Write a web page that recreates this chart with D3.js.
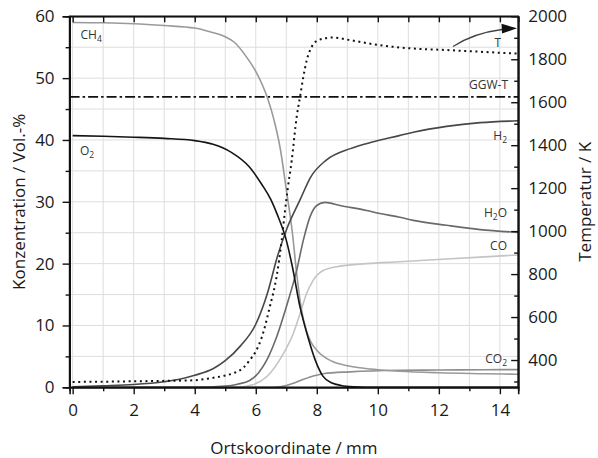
<!DOCTYPE html>
<html><head><meta charset="utf-8">
<script src="https://cdn.jsdelivr.net/npm/d3@7"></script>
<style>
html,body{margin:0;padding:0;background:#fff;}
svg{display:block;}
text{font-family:"Open Sans","DejaVu Sans",sans-serif;}
</style></head>
<body>
<svg id="chart" width="598" height="458"></svg>
<script>
// ---- data ----
const xTicks = [0, 2, 4, 6, 8, 10, 12, 14];
const yLeftTicks = [0, 10, 20, 30, 40, 50, 60];
const yRightTicks = [400, 600, 800, 1000, 1200, 1400, 1600, 1800, 2000];

const ch4X = [0,1,2,3,4,4.5,5,5.3,5.7,6.0,6.2,6.4,6.6,6.8,7.0,7.2,7.35,7.5,7.65,7.8,8.0,8.5,9.0,9.4,10,10.7,12,13.5,14.6];
const ch4Y = [59.0,58.95,58.8,58.5,58.1,57.5,56.7,55.8,53.4,51.1,49.1,46.6,43.2,38.7,32.0,25.0,18.0,12.5,9.3,7.4,6.0,4.2,3.5,3.15,2.85,2.6,2.35,2.2,2.1];

const o2X = [0,1,2,3,4,4.6,5.2,5.8,6.2,6.5,6.7,7.0,7.2,7.45,7.7,7.95,8.2,8.5,8.8,9.2,10,14.6];
const o2Y = [40.7,40.6,40.45,40.25,39.9,39.3,38.0,35.6,32.8,30.3,28.0,23.8,19.5,13.0,8.3,4.4,1.8,0.7,0.3,0.1,0.0,0.0];

const h2X = [0,1,2,3,3.5,4.0,4.6,5.0,5.5,6.0,6.4,6.7,7.0,7.45,7.8,8.3,9.1,9.85,10.7,11.2,12.25,13.35,14.6];
const h2Y = [0.1,0.25,0.45,0.9,1.3,1.95,3.0,4.3,6.7,10.2,15.5,21.0,25.4,30.3,34.0,36.7,38.6,39.7,40.7,41.3,42.2,42.8,43.1];

const h2oX = [0,4,5,5.4,5.8,6.1,6.36,6.68,7.0,7.34,7.56,7.78,8.0,8.27,8.76,9.63,10.07,10.72,11.16,12.25,13.35,14.6];
const h2oY = [0,0,0.2,0.5,1.1,2.4,4.4,8.1,13.0,18.9,23.8,27.6,29.4,29.9,29.4,28.6,28.1,27.5,27.0,26.2,25.5,25.05];

const coX = [0,5.4,5.9,6.36,6.9,7.23,7.45,7.67,7.88,8.21,8.76,9.63,10.72,12.25,13.5,14.6];
const coY = [0,0,0.4,1.7,5.4,8.7,11.9,15.2,17.3,18.9,19.6,20.0,20.3,20.75,21.1,21.4];

const co2X = [0,6.4,6.7,7.0,7.34,7.78,8.21,9.09,10.72,12,13.5,14.6];
const co2Y = [0,0,0.05,0.3,0.86,1.67,2.2,2.5,2.75,2.8,2.84,2.86];

const tX = [0,1,2,3,4,4.5,5.0,5.3,5.6,5.8,6.0,6.2,6.46,6.68,6.85,6.96,7.05,7.18,7.34,7.45,7.56,7.67,7.83,8.05,8.5,9.1,9.85,10.7,12.4,14.6];
const tY = [298,299,301,303,306,315,328,340,365,399,440,507,647,786,957,1097,1200,1330,1531,1624,1718,1795,1857,1889,1901,1889,1870,1855,1842,1826];

const ggwT = 1625;

// ---- scales ----
const svg = d3.select("#chart");
const x = d3.scaleLinear().domain([-0.1, 14.6]).range([69.6, 518.2]);
const y = d3.scaleLinear().domain([0, 60]).range([387.3, 16.3]);
const yT = d3.scaleLinear().domain([273, 2000]).range([387.3, 16.3]);

// ---- grid ----
const grid = svg.append("g");
grid.selectAll("line.vx").data(d3.range(0, 15)).join("line")
  .attr("x1", d => x(d)).attr("x2", d => x(d))
  .attr("y1", y(0)).attr("y2", y(60))
  .attr("stroke", "#dedede").attr("stroke-width", 1);
grid.selectAll("line.hy").data(d3.range(5, 60, 5)).join("line")
  .attr("x1", x(-0.1)).attr("x2", x(14.6))
  .attr("y1", d => y(d)).attr("y2", d => y(d))
  .attr("stroke", "#dedede").attr("stroke-width", 1);

// ---- lines ----
function series(xs, ys) { return xs.map((v, i) => [v, ys[i]]); }
const lineL = d3.line().x(d => x(d[0])).y(d => y(d[1])).curve(d3.curveMonotoneX);
const lineT = d3.line().x(d => x(d[0])).y(d => yT(d[1])).curve(d3.curveMonotoneX);

const plot = svg.append("g");
// GGW-T
plot.append("line")
  .attr("x1", x(-0.1)).attr("x2", x(14.6))
  .attr("y1", yT(ggwT)).attr("y2", yT(ggwT))
  .attr("stroke", "#111").attr("stroke-width", 1.6)
  .attr("stroke-dasharray", "10,3,2.5,3");

const curves = [
  {d: series(coX, coY), c: "#c4c4c4"},
  {d: series(co2X, co2Y), c: "#8e8e8e"},
  {d: series(ch4X, ch4Y), c: "#9a9a9a"},
  {d: series(h2oX, h2oY), c: "#6a6a6a"},
  {d: series(h2X, h2Y), c: "#474747"},
  {d: series(o2X, o2Y), c: "#141414"}
];
curves.forEach(s => {
  plot.append("path").attr("d", lineL(s.d))
    .attr("fill", "none").attr("stroke", s.c).attr("stroke-width", 1.6);
});
plot.append("path").attr("d", lineT(series(tX, tY)))
  .attr("fill", "none").attr("stroke", "#111").attr("stroke-width", 2)
  .attr("stroke-dasharray", "2,3.6");

// ---- axes ----
const fmt = d3.format("d");
svg.append("g").attr("transform", `translate(${x(-0.1)},0)`)
  .call(d3.axisLeft(y).tickValues(yLeftTicks).tickSize(7).tickPadding(8).tickFormat(fmt));
svg.append("g").attr("transform", `translate(${x(-0.1)},0)`)
  .call(d3.axisLeft(y).tickValues(d3.range(5, 60, 10)).tickSize(4).tickFormat(""));
svg.append("g").attr("transform", `translate(0,${y(0)})`)
  .call(d3.axisBottom(x).tickValues(xTicks).tickSize(7).tickPadding(10).tickFormat(fmt));
svg.append("g").attr("transform", `translate(0,${y(0)})`)
  .call(d3.axisBottom(x).tickValues(d3.range(1, 15, 2)).tickSize(4).tickFormat(""));
svg.append("g").attr("transform", `translate(0,${y(60)})`)
  .call(d3.axisTop(x).tickValues(d3.range(0, 15)).tickSize(-6).tickFormat(""));
svg.append("g").attr("transform", `translate(${x(14.6)},0)`)
  .call(d3.axisRight(yT).tickValues(yRightTicks).tickSizeInner(-7).tickSizeOuter(0).tickPadding(10).tickFormat(fmt));
svg.append("g").attr("transform", `translate(${x(14.6)},0)`)
  .call(d3.axisRight(yT).tickValues(d3.range(300, 2000, 200)).tickSizeInner(-4).tickSizeOuter(0).tickFormat(""));

svg.selectAll(".domain").attr("stroke", "#111").attr("stroke-width", 1.6);
svg.selectAll(".tick line").attr("stroke", "#111").attr("stroke-width", 1.4);
svg.selectAll(".tick text").attr("font-size", 17).attr("fill", "#1a1a1a")
  .attr("font-family", '"Open Sans", sans-serif');
svg.append("rect").attr("x", x(-0.1)).attr("y", y(60))
  .attr("width", x(14.6) - x(-0.1)).attr("height", y(0) - y(60))
  .attr("fill", "none").attr("stroke", "#111").attr("stroke-width", 1.6);

// ---- axis titles ----
svg.append("text").attr("x", (x(-0.1) + x(14.6)) / 2).attr("y", 454)
  .attr("text-anchor", "middle").attr("font-size", 17).attr("fill", "#1a1a1a")
  .text("Ortskoordinate / mm");
svg.append("text").attr("transform", `translate(25,${(y(0) + y(60)) / 2}) rotate(-90)`)
  .attr("text-anchor", "middle").attr("font-size", 17).attr("fill", "#1a1a1a")
  .text("Konzentration / Vol.-%");
svg.append("text").attr("transform", `translate(591,${(y(0) + y(60)) / 2}) rotate(-90)`)
  .attr("text-anchor", "middle").attr("font-size", 17).attr("fill", "#1a1a1a")
  .text("Temperatur / K");

// ---- curve labels ----
function label(px, py, main, sub, rest, anchor) {
  const t = svg.append("text").attr("x", px).attr("y", py)
    .attr("font-size", 12).attr("fill", "#333").attr("text-anchor", anchor || "start");
  t.append("tspan").text(main);
  if (sub) t.append("tspan").attr("font-size", 8.5).attr("dy", 3).text(sub);
  if (rest) t.append("tspan").attr("dy", -3).text(rest);
  return t;
}
label(80.5, 38.5, "CH", "4");
label(80, 155, "O", "2");
label(507, 140, "H", "2", null, "end");
label(507, 216.5, "H", "2", "O", "end");
label(507, 250, "CO", null, null, "end");
label(507, 362.5, "CO", "2", null, "end");
label(508, 89, "GGW-T", null, null, "end");
label(501, 46.5, "T", null, null, "end");

// ---- arrow to T axis ----
svg.append("path")
  .attr("d", "M453,46.5 Q474,33 502,29.5")
  .attr("fill", "none").attr("stroke", "#444").attr("stroke-width", 1.3);
svg.append("path")
  .attr("d", "M517,28.3 L501.5,23.8 L502,33.5 Z")
  .attr("fill", "#111");
</script>
</body></html>
